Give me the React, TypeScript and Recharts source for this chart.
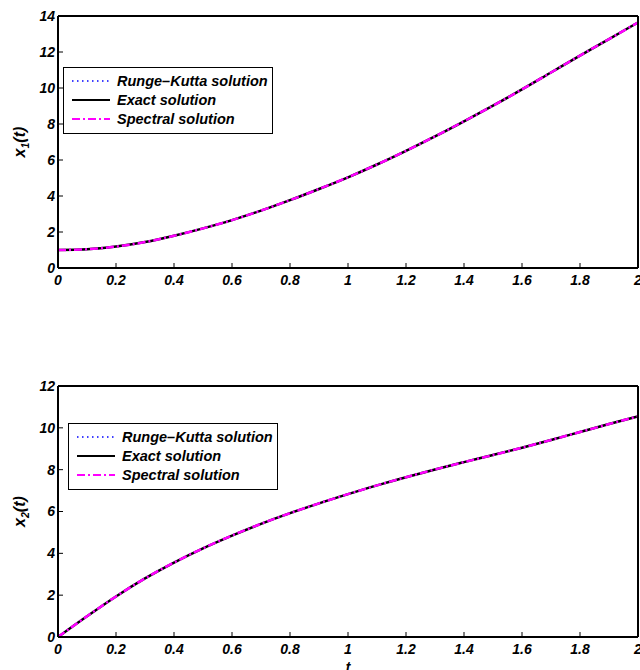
import { Label, Legend, Line, LineChart, XAxis, YAxis } from "recharts";

// Time grid and solution values.
// The three methods agree to within a pixel, so they share the readings.
const T = [0, 0.1, 0.2, 0.3, 0.4, 0.5, 0.6, 0.7, 0.8, 0.9, 1, 1.1, 1.2, 1.3, 1.4, 1.5, 1.6, 1.7, 1.8, 1.9, 2];

const X1_EXACT = [1.0, 1.04, 1.19, 1.44, 1.79, 2.2, 2.66, 3.19, 3.77, 4.39, 5.04, 5.75, 6.51, 7.31, 8.15, 9.02, 9.92, 10.86, 11.8, 12.72, 13.64];
const X1_RK = [1.0, 1.04, 1.19, 1.44, 1.79, 2.2, 2.66, 3.19, 3.77, 4.39, 5.04, 5.75, 6.51, 7.31, 8.15, 9.02, 9.92, 10.86, 11.8, 12.72, 13.64];
const X1_SPECTRAL = [1.0, 1.04, 1.19, 1.44, 1.79, 2.2, 2.66, 3.19, 3.77, 4.39, 5.04, 5.75, 6.51, 7.31, 8.15, 9.02, 9.92, 10.86, 11.8, 12.72, 13.64];

const X2_EXACT = [0, 0.99, 1.94, 2.8, 3.56, 4.24, 4.85, 5.41, 5.92, 6.39, 6.83, 7.25, 7.64, 8.01, 8.36, 8.7, 9.05, 9.42, 9.8, 10.18, 10.55];
const X2_RK = [0, 0.99, 1.94, 2.8, 3.56, 4.24, 4.85, 5.41, 5.92, 6.39, 6.83, 7.25, 7.64, 8.01, 8.36, 8.7, 9.05, 9.42, 9.8, 10.18, 10.55];
const X2_SPECTRAL = [0, 0.99, 1.94, 2.8, 3.56, 4.24, 4.85, 5.41, 5.92, 6.39, 6.83, 7.25, 7.64, 8.01, 8.36, 8.7, 9.05, 9.42, 9.8, 10.18, 10.55];

const T_TICKS = [0, 0.2, 0.4, 0.6, 0.8, 1, 1.2, 1.4, 1.6, 1.8, 2];
const X1_TICKS = [0, 2, 4, 6, 8, 10, 12, 14];
const X2_TICKS = [0, 2, 4, 6, 8, 10, 12];

const NAMES = { rk: "Runge\u2013Kutta solution", exact: "Exact solution", spectral: "Spectral solution" };

const FONT = '"Liberation Sans", Arial, sans-serif';

// legend sample widths; the plotted curves are drawn a touch heavier
const STYLE = {
  rk: { stroke: "#0000ff", width: 1.5, plotWidth: 1.5, dash: "1.5 3.5" },
  exact: { stroke: "#000000", width: 2, plotWidth: 2.5, dash: undefined },
  spectral: { stroke: "#ff00ff", width: 2, plotWidth: 2.5, dash: "8 3 2 3" },
};

const KEYS = ["rk", "exact", "spectral"] as const;

const tickStyle = {
  fill: "#000",
  fontSize: 14,
  fontWeight: "bold",
  fontStyle: "italic",
  fontFamily: FONT,
};

function LegendBox() {
  return (
    <div
      style={{
        border: "1px solid #000",
        background: "#fff",
        width: 208,
        height: 62,
        paddingTop: 3,
        boxSizing: "content-box",
        fontFamily: FONT,
        fontWeight: "bold",
        fontStyle: "italic",
        fontSize: 14.5,
        color: "#000",
      }}
    >
      {KEYS.map((k) => (
        <div key={k} style={{ display: "flex", alignItems: "center", height: 19.3 }}>
          <svg width={38} height={8} style={{ marginLeft: 8, marginRight: 7 }}>
            <line
              x1={0}
              y1={4}
              x2={38}
              y2={4}
              stroke={STYLE[k].stroke}
              strokeWidth={STYLE[k].width}
              strokeDasharray={STYLE[k].dash}
            />
          </svg>
          <span style={{ whiteSpace: "nowrap" }}>{NAMES[k]}</span>
        </div>
      ))}
    </div>
  );
}

function YTitle({ viewBox, sub }: any) {
  const cx = 25;
  const cy = viewBox.y + viewBox.height / 2;
  return (
    <text
      x={cx}
      y={cy}
      transform={`rotate(-90 ${cx} ${cy})`}
      textAnchor="middle"
      fontFamily={FONT}
      fontWeight="bold"
      fontStyle="italic"
      fontSize={16}
      fill="#000"
    >
      x
      <tspan fontSize={10.5} dy={4}>
        {sub}
      </tspan>
      <tspan dy={-4}>(t)</tspan>
    </text>
  );
}

function Panel({
  rk,
  exact,
  spectral,
  yTicks,
  sub,
  plotBottom,
  legendPos,
  showT,
}: {
  rk: number[];
  exact: number[];
  spectral: number[];
  yTicks: number[];
  sub: string;
  plotBottom: number;
  legendPos: { left: number; top: number };
  showT: boolean;
}) {
  const data = T.map((t, i) => ({ t, rk: rk[i], exact: exact[i], spectral: spectral[i] }));
  const yMax = yTicks[yTicks.length - 1];
  return (
    <LineChart width={640} height={300} data={data} margin={{ top: 15, right: 1, bottom: 0, left: 0 }}>
      <XAxis
        dataKey="t"
        type="number"
        domain={[0, 2]}
        ticks={T_TICKS}
        height={300 - plotBottom}
        axisLine={{ stroke: "#000", strokeWidth: 2 }}
        tickLine={{ stroke: "#000" }}
        tickSize={-5}
        tickMargin={12}
        tick={tickStyle}
        interval={0}
      >
        {showT && <Label value="t" position="insideBottom" offset={-2} style={tickStyle} />}
      </XAxis>
      <XAxis
        xAxisId="top"
        dataKey="t"
        type="number"
        orientation="top"
        domain={[0, 2]}
        ticks={T_TICKS}
        height={1}
        axisLine={{ stroke: "#000", strokeWidth: 2 }}
        tickLine={{ stroke: "#000" }}
        tickSize={-5}
        tick={false}
        interval={0}
      />
      <YAxis
        type="number"
        domain={[0, yMax]}
        ticks={yTicks}
        width={58}
        axisLine={{ stroke: "#000", strokeWidth: 2 }}
        tickLine={{ stroke: "#000" }}
        tickSize={-5}
        tickMargin={8}
        tick={tickStyle}
        interval={0}
      >
        <Label content={(p: any) => <YTitle {...p} sub={sub} />} />
      </YAxis>
      <YAxis
        yAxisId="right"
        orientation="right"
        type="number"
        domain={[0, yMax]}
        ticks={yTicks}
        width={1}
        axisLine={{ stroke: "#000", strokeWidth: 2 }}
        tickLine={{ stroke: "#000" }}
        tickSize={-5}
        tick={false}
        interval={0}
      />
      <Legend
        layout="vertical"
        align="center"
        verticalAlign="middle"
        wrapperStyle={{ position: "absolute", left: legendPos.left, top: legendPos.top, width: 210, height: 66 }}
        content={() => <LegendBox />}
      />
      {KEYS.map((k) => (
        <Line
          key={k}
          dataKey={k}
          name={NAMES[k]}
          type="monotone"
          stroke={STYLE[k].stroke}
          strokeWidth={STYLE[k].plotWidth}
          strokeDasharray={STYLE[k].dash}
          dot={false}
          activeDot={false}
          isAnimationActive={false}
        />
      ))}
    </LineChart>
  );
}

export default function App() {
  return (
    <div style={{ position: "absolute", left: 0, top: 0, width: 640, height: 670, background: "#fff" }}>
      <div style={{ position: "absolute", left: 0, top: 0 }}>
        <Panel
          rk={X1_RK}
          exact={X1_EXACT}
          spectral={X1_SPECTRAL}
          yTicks={X1_TICKS}
          sub="1"
          plotBottom={268}
          legendPos={{ left: 63, top: 67 }}
          showT={false}
        />
      </div>
      <div style={{ position: "absolute", left: 0, top: 370 }}>
        <Panel
          rk={X2_RK}
          exact={X2_EXACT}
          spectral={X2_SPECTRAL}
          yTicks={X2_TICKS}
          sub="2"
          plotBottom={267}
          legendPos={{ left: 68, top: 53 }}
          showT={true}
        />
      </div>
    </div>
  );
}
